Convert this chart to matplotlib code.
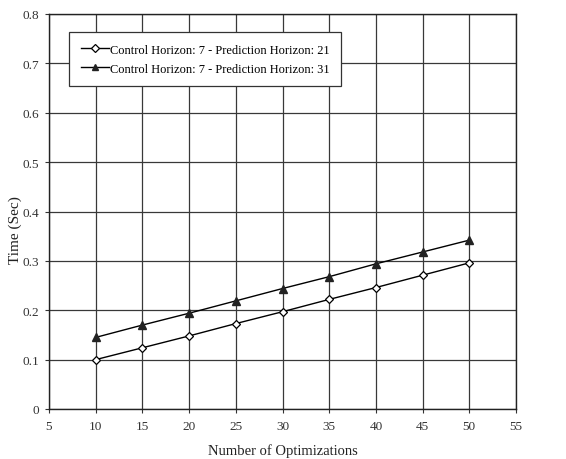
import matplotlib.pyplot as plt
import numpy as np

# number of optimizations vs. computation time
optimizations = [10, 15, 20, 25, 30, 35, 40, 45, 50]
time_ph21 = [0.100, 0.124, 0.148, 0.173, 0.197, 0.222, 0.246, 0.271, 0.296]
time_ph31 = [0.145, 0.170, 0.194, 0.219, 0.244, 0.268, 0.294, 0.318, 0.342]

label_ph21 = "Control Horizon: 7 - Prediction Horizon: 21"
label_ph31 = "Control Horizon: 7 - Prediction Horizon: 31"

plt.rcParams["font.family"] = ["Liberation Serif", "DejaVu Serif"]

fig = plt.figure(figsize=(5.66, 4.6), dpi=100)
ax = fig.add_axes([49 / 566, 1 - 410 / 460, (516 - 49) / 566, (410 - 15) / 460])

ax.plot(optimizations, time_ph21, color="black", lw=1.0, marker="D",
        markersize=4.3, markerfacecolor="white", markeredgecolor="black",
        markeredgewidth=0.9, label=label_ph21, zorder=3)
ax.plot(optimizations, time_ph31, color="black", lw=1.0, marker="^",
        markersize=5.6, markerfacecolor="#222222", markeredgecolor="#222222",
        label=label_ph31, zorder=3)

ax.set_xlim(5, 55)
ax.set_ylim(0, 0.8)
ax.set_xticks(np.arange(5, 56, 5))
ax.set_yticks(np.arange(0, 0.81, 0.1))
ax.set_yticklabels(["0"] + [f"{v:.1f}" for v in np.arange(0.1, 0.81, 0.1)])
ax.grid(True, color="#383838", lw=0.9)
ax.set_axisbelow(True)
for s in ax.spines.values():
    s.set_color("#222222")
    s.set_linewidth(1.0)

ax.tick_params(axis="both", labelsize=9.5, colors="#333333", length=3, width=0.8,
               direction="out")
ax.tick_params(axis="x", pad=5)
ax.tick_params(axis="y", pad=4)
ax.set_xlabel("Number of Optimizations", fontsize=10.5, color="#222222")
ax.set_ylabel("Time (Sec)", fontsize=11, color="#222222")
# place axis titles in figure pixel space
ax.xaxis.set_label_coords(0.5, (460 - 451) / 460, transform=fig.transFigure)
ax.yaxis.set_label_coords(15 / 566, 0.5, transform=fig.transFigure)
ax.xaxis.label.set_va("center")
ax.yaxis.label.set_va("center")

leg = ax.legend(loc="upper left", bbox_to_anchor=(20 / 467, 1 - 18 / 395),
                fontsize=8.9, frameon=True, fancybox=False, edgecolor="#333333",
                handlelength=2.3, handletextpad=0.05, borderpad=0.95,
                borderaxespad=0, labelspacing=0.55, markerscale=0.85)
leg.get_frame().set_linewidth(0.9)
leg.get_frame().set_alpha(1)

plt.savefig("out.png", dpi=100)
